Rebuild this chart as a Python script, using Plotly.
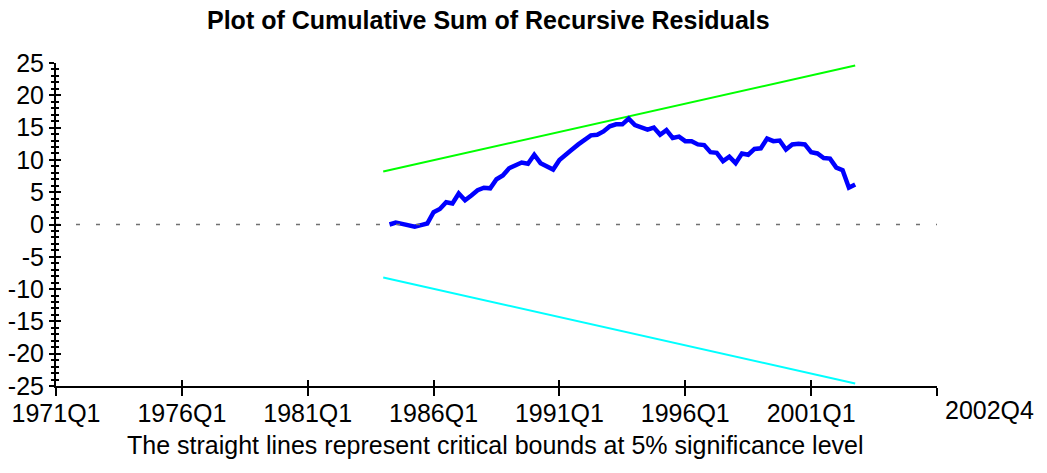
import plotly.graph_objects as go

# ---- data ----
sample_start = "1984Q2"
cusum = [0.0, 0.3, 0.1, -0.1, -0.35, -0.1, 0.15, 1.9, 2.4, 3.45,
         3.25, 4.8, 3.75, 4.5, 5.3, 5.7, 5.6, 7.0, 7.6, 8.7,
         9.1, 9.6, 9.4, 10.8, 9.5, 8.9, 8.5, 10.0, 10.7, 11.6,
         12.4, 13.0, 13.8, 13.9, 14.4, 15.2, 15.5, 15.5, 16.4, 15.4,
         15.0, 14.7, 15.0, 13.9, 14.6, 13.4, 13.6, 12.9, 12.9, 12.4,
         12.3, 11.2, 11.1, 9.8, 10.5, 9.5, 11.0, 10.8, 11.7, 11.8,
         13.3, 12.9, 13.0, 11.6, 12.4, 12.5, 12.4, 11.2, 11.0, 10.3,
         10.2, 8.8, 8.4, 5.7, 6.2]
bound_quarters = ["1984Q1", "2002Q4"]
upper_bound = [8.2, 24.6]
lower_bound = [-8.2, -24.6]
x_tick_labels = ["1971Q1", "1976Q1", "1981Q1", "1986Q1", "1991Q1", "1996Q1", "2001Q1"]
axis_end = "2006Q1"
end_label = "2002Q4"
y_ticks = [25, 20, 15, 10, 5, 0, -5, -10, -15, -20, -25]

BASE = 1971


def qidx(q):
    y, k = q.split("Q")
    return (int(y) - BASE) * 4 + int(k) - 1


start = qidx(sample_start)
cusum_x = [start + i for i in range(len(cusum))]
bound_x = [qidx(q) for q in bound_quarters]
x_end = qidx(axis_end)

FONT = "Liberation Sans, Arial, sans-serif"
FS = 25

L, R, T, B = 56, 110, 63, 87
PW, PH = 1047 - L - R, 473 - T - B


def px_x(px):
    return (px - L) / PW


def px_y(py):
    return (473 - B - py) / PH


fig = go.Figure()
fig.add_trace(go.Scatter(x=[0, x_end], y=[0, 0], mode="lines",
                         line=dict(color="#707070", width=1.5, dash="4px,16px"),
                         xaxis="x2", yaxis="y2", hoverinfo="skip"))
fig.add_trace(go.Scatter(x=bound_x, y=upper_bound, mode="lines",
                         line=dict(color="#00FF00", width=2)))
fig.add_trace(go.Scatter(x=bound_x, y=lower_bound, mode="lines",
                         line=dict(color="#00FFFF", width=2)))
fig.add_trace(go.Scatter(x=cusum_x, y=cusum, mode="lines",
                         line=dict(color="#0000FF", width=4.5)))

xtv = [qidx(t) for t in x_tick_labels] + [x_end]
xtt = x_tick_labels + [""]
ytt = [str(v) for v in y_ticks]

common_x = dict(range=[0, x_end], tickvals=xtv, showgrid=False, zeroline=False,
                fixedrange=True)
common_y = dict(range=[-25, 25], tickvals=y_ticks, showgrid=False, zeroline=False,
                fixedrange=True)

fig.update_layout(
    width=1047, height=473,
    margin=dict(l=L, r=R, t=T, b=B, autoexpand=False),
    paper_bgcolor="white", plot_bgcolor="white",
    showlegend=False,
    font=dict(family=FONT, size=FS, color="black"),
    xaxis=dict(**common_x, ticktext=xtt, showline=True, linecolor="black", linewidth=2,
               ticks="outside", ticklen=8, tickwidth=2, tickcolor="black",
               ticklabelstandoff=-4,
               tickfont=dict(size=FS)),
    yaxis=dict(**common_y, ticktext=ytt, showline=True, linecolor="black", linewidth=2,
               ticks="outside", ticklen=5, tickwidth=2, tickcolor="black",
               tickfont=dict(size=FS),
               minor=dict(dtick=1, ticks="outside", ticklen=3, tickwidth=1.5,
                          tickcolor="black", showgrid=False)),
    xaxis2=dict(**common_x, overlaying="x", anchor="y2", side="bottom",
                showticklabels=False, showline=False,
                ticks="inside", ticklen=6, tickwidth=2, tickcolor="black"),
    yaxis2=dict(**common_y, overlaying="y", anchor="x2", side="left",
                showticklabels=False, showline=False,
                ticks="inside", ticklen=5, tickwidth=2, tickcolor="black",
                minor=dict(dtick=1, ticks="inside", ticklen=3, tickwidth=1.5,
                           tickcolor="black", showgrid=False)),
    annotations=[
        dict(text="<b>Plot of Cumulative Sum of Recursive Residuals</b>",
             xref="paper", yref="paper", x=px_x(488), y=px_y(20),
             xanchor="center", yanchor="middle", showarrow=False,
             font=dict(size=25, family=FONT)),
        dict(text=end_label, xref="paper", yref="paper",
             x=px_x(990), y=px_y(410),
             xanchor="center", yanchor="middle", showarrow=False,
             font=dict(size=FS, family=FONT)),
        dict(text="The straight lines represent critical bounds at 5% significance level",
             xref="paper", yref="paper", x=px_x(495), y=px_y(445),
             xanchor="center", yanchor="middle", showarrow=False,
             font=dict(size=FS, family=FONT)),
    ],
)

fig.write_html("out.html", config={"displayModeBar": False},
               post_script="document.body.style.margin='0px';document.body.style.padding='0px';")
